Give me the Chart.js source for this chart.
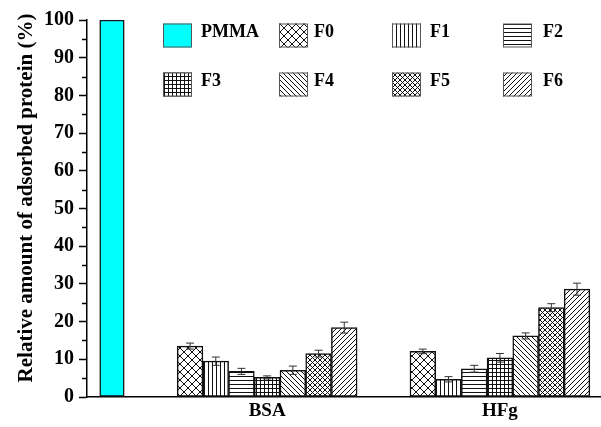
<!DOCTYPE html>
<html>
<head>
<meta charset="utf-8">
<title>Relative amount of adsorbed protein</title>
<script src="https://cdn.jsdelivr.net/npm/chart.js@4.4.1/dist/chart.umd.min.js"></script>
<style>
  html, body { margin: 0; padding: 0; background: #fff; }
  #wrap { width: 601px; height: 427px; }
</style>
</head>
<body>
<div id="wrap"><canvas id="chart" width="601" height="427"></canvas></div>
<script>
// ---- data ----
const groups = ['PMMA', 'BSA', 'HFg'];
const seriesNames = ['F0', 'F1', 'F2', 'F3', 'F4', 'F5', 'F6'];
const pmmaValues = [100, null, null];
const bsaValues = [13.5, 9.5, 6.8, 5.2, 7.1, 11.5, 18.4];
const bsaErrors = [0.8, 1.1, 0.8, 0.4, 1.1, 0.9, 1.45];
const hfgValues = [12.1, 4.7, 7.5, 10.4, 16.2, 23.7, 28.6];
const hfgErrors = [0.6, 0.7, 0.9, 1.15, 0.8, 1.05, 1.6];
const yTickValues = [0, 10, 20, 30, 40, 50, 60, 70, 80, 90, 100];

// ---- layout / style ----
const groupPos = [1, 3, 6];            // positions of the groups on the x scale
const FONT = '"Liberation Serif", "Times New Roman", serif';
const INK = '#000';

// hatch fills for the F series
function makePattern(kind) {
  const p = (kind === 'cross') ? 8 : (kind === 'dense') ? 5 : (kind === 'back' || kind === 'fwd') ? 5 : 4;
  const c = document.createElement('canvas');
  c.width = p; c.height = p;
  const g = c.getContext('2d');
  g.fillStyle = '#fff';
  g.fillRect(0, 0, p, p);
  g.strokeStyle = '#111';
  g.lineWidth = 1;
  const fwd = () => { // "/"
    g.beginPath();
    g.moveTo(-1, p + 1); g.lineTo(p + 1, -1);
    g.moveTo(-1, 1); g.lineTo(1, -1);
    g.moveTo(p - 1, p + 1); g.lineTo(p + 1, p - 1);
    g.stroke();
  };
  const back = () => { // "\"
    g.beginPath();
    g.moveTo(-1, -1); g.lineTo(p + 1, p + 1);
    g.moveTo(p - 1, -1); g.lineTo(p + 1, 1);
    g.moveTo(-1, p - 1); g.lineTo(1, p + 1);
    g.stroke();
  };
  if (kind === 'cross' || kind === 'dense') { fwd(); back(); }
  else if (kind === 'vert') { g.beginPath(); g.moveTo(0.5, 0); g.lineTo(0.5, p); g.stroke(); }
  else if (kind === 'horiz') { g.beginPath(); g.moveTo(0, 0.5); g.lineTo(p, 0.5); g.stroke(); }
  else if (kind === 'grid') {
    g.beginPath();
    g.moveTo(0.5, 0); g.lineTo(0.5, p);
    g.moveTo(0, 0.5); g.lineTo(p, 0.5);
    g.stroke();
  }
  else if (kind === 'back') back();
  else if (kind === 'fwd') fwd();
  return g.createPattern(c, 'repeat');
}
const patternKinds = ['cross', 'vert', 'horiz', 'grid', 'back', 'dense', 'fwd'];

const datasets = [{
  label: 'PMMA',
  data: groups.map((g, k) => ({ x: groupPos[k], y: pmmaValues[k] })),
  backgroundColor: '#00FFFF',
  borderColor: '#111',
  borderWidth: 1.5,
  borderSkipped: false,
  barThickness: 24.5,
  errors: [null, null, null]
}];
seriesNames.forEach((name, i) => {
  const vals = [null, bsaValues[i], hfgValues[i]];
  datasets.push({
    label: name,
    data: groups.map((g, k) => ({ x: groupPos[k], y: vals[k] })),
    backgroundColor: makePattern(patternKinds[i]),
    borderColor: '#111',
    borderWidth: 1.5,
    borderSkipped: false,
    barThickness: 25.7,
    errors: [null, bsaErrors[i], hfgErrors[i]]
  });
});

// error bars drawn on top of each bar
const errorBars = {
  id: 'errorBars',
  afterDatasetsDraw(chart) {
    const ctx = chart.ctx;
    const y = chart.scales.y;
    ctx.save();
    ctx.strokeStyle = '#333';
    ctx.lineWidth = 1;
    chart.data.datasets.forEach((ds, di) => {
      const meta = chart.getDatasetMeta(di);
      ds.data.forEach((pt, j) => {
        const e = ds.errors[j];
        if (pt.y == null || e == null) return;
        const el = meta.data[j];
        const x = el.x;
        const yt = y.getPixelForValue(pt.y + e);
        const yb = y.getPixelForValue(pt.y - e);
        const hw = 4;
        ctx.beginPath();
        ctx.moveTo(x, yt); ctx.lineTo(x, yb);
        ctx.moveTo(x - hw, yt); ctx.lineTo(x + hw, yt);
        ctx.moveTo(x - hw, yb); ctx.lineTo(x + hw, yb);
        ctx.stroke();
      });
    });
    ctx.restore();
  }
};

// minor ticks between the labelled values on the y axis
const minorTicks = {
  id: 'minorTicks',
  afterDraw(chart) {
    const ys = chart.scales.y;
    const ctx = chart.ctx;
    const x0 = chart.chartArea.left;
    ctx.save();
    ctx.strokeStyle = INK;
    ctx.lineWidth = 1.5;
    for (let k = 0; k < yTickValues.length - 1; k++) {
      const v = (yTickValues[k] + yTickValues[k + 1]) / 2;
      const py = Math.round(ys.getPixelForValue(v)) + 0.5;
      ctx.beginPath();
      ctx.moveTo(x0 - 5, py); ctx.lineTo(x0, py);
      ctx.stroke();
    }
    ctx.restore();
  }
};

// rotated y axis title
const yTitle = {
  id: 'yTitle',
  afterDraw(chart) {
    const ctx = chart.ctx;
    ctx.save();
    ctx.translate(27, 198);
    ctx.rotate(-Math.PI / 2);
    ctx.font = 'bold 21px ' + FONT;
    ctx.fillStyle = INK;
    ctx.textAlign = 'center';
    ctx.textBaseline = 'middle';
    ctx.fillText('Relative amount of adsorbed protein (%)', 0, 0);
    ctx.restore();
  }
};

// legend laid out in a 4 x 2 grid inside the plot
const gridLegend = {
  id: 'gridLegend',
  afterDraw(chart) {
    const ctx = chart.ctx;
    const colX = [163, 279, 392, 503];
    const labelDx = [38, 35, 38, 40];
    const rowY = [23.5, 72.5];
    const bw = 29, bh = 24;
    ctx.save();
    ctx.font = 'bold 18px ' + FONT;
    ctx.textBaseline = 'middle';
    ctx.textAlign = 'left';
    chart.data.datasets.forEach((ds, i) => {
      const c = i % 4, r = Math.floor(i / 4);
      const x = colX[c], y = rowY[r];
      ctx.fillStyle = ds.backgroundColor;
      ctx.fillRect(x, y, bw, bh);
      ctx.strokeStyle = '#555';
      ctx.lineWidth = 1;
      ctx.strokeRect(x + 0.5, y + 0.5, bw - 1, bh - 1);
      ctx.fillStyle = INK;
      ctx.fillText(ds.label, x + labelDx[c], y + bh / 2 - 3);
    });
    ctx.restore();
  }
};

new Chart(document.getElementById('chart'), {
  type: 'bar',
  data: { datasets },
  plugins: [errorBars, minorTicks, yTitle, gridLegend],
  options: {
    responsive: false,
    animation: false,
    events: [],
    layout: { padding: { left: 0, right: 1, top: 20, bottom: 0 } },
    datasets: { bar: { skipNull: true, grouped: true } },
    plugins: { legend: { display: false }, tooltip: { enabled: false } },
    scales: {
      x: {
        type: 'linear',
        offset: false,
        min: 0.678,
        max: 7.29,
        afterBuildTicks(scale) {
          scale.ticks = [{ value: groupPos[1] }, { value: groupPos[2] }];
        },
        afterFit(scale) { scale.height = 30; },
        ticks: {
          autoSkip: false,
          maxRotation: 0,
          padding: 3,
          color: INK,
          font: { family: FONT, size: 19, weight: 'bold' },
          callback(v) { const k = groupPos.indexOf(v); return k >= 0 ? groups[k] : ''; }
        },
        grid: { display: true, drawOnChartArea: false, drawTicks: false },
        border: { display: true, color: INK, width: 1.5 }
      },
      y: {
        min: 0,
        max: 100,
        afterFit(scale) { scale.width = 87; },
        afterBuildTicks(scale) { scale.ticks = yTickValues.map(v => ({ value: v })); },
        ticks: {
          padding: 5,
          color: INK,
          font: { family: FONT, size: 20, weight: 'bold' }
        },
        grid: { drawOnChartArea: false, tickLength: 8, tickWidth: 1.5, tickColor: INK },
        border: { display: true, color: INK, width: 1.5 }
      }
    }
  }
});
</script>
</body>
</html>
